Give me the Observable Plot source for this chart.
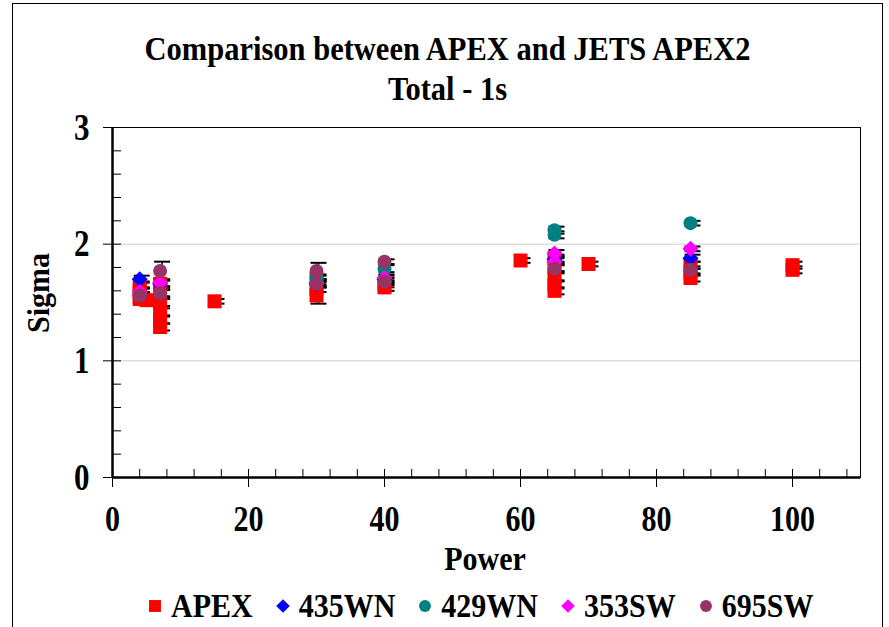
<!DOCTYPE html>
<html>
<head>
<meta charset="utf-8">
<script src="https://cdn.jsdelivr.net/npm/d3@7"></script>
<script src="https://cdn.jsdelivr.net/npm/@observablehq/plot@0.6"></script>
<style>
  body { margin: 0; background: #fff; }
  #chart { position: relative; width: 889px; height: 627px; overflow: hidden;
           font-family: "Liberation Serif", "Times New Roman", serif; font-weight: bold; color: #000; }
  #outline { position: absolute; left: 12px; top: 3px; width: 871px; height: 660px; border: 1px solid #000; box-sizing: border-box; }
  .title { position: absolute; left: 0; width: 895px; text-align: center; font-size: 30.5px; line-height: 1; transform: scaleY(1.12); }
  #plot { position: absolute; left: 0; top: 0; }
  .axis-label { position: absolute; font-size: 30px; line-height: 0.9; }
  #legend { position: absolute; left: 147px; top: 591px; display: flex; align-items: center; font-size: 30px; line-height: 1; }
  #legend .item { display: flex; align-items: center; margin-right: 22px; }
  #legend span { display: inline-block; transform: scaleY(1.12); }
  #legend svg { margin-right: 8px; }
</style>
</head>
<body>
<div id="chart">
  <div id="outline"></div>
  <div id="plot"></div>
  <div class="title" style="top:34px">Comparison between APEX and JETS APEX2</div>
  <div class="title" style="top:74px">Total - 1s</div>
  <div class="axis-label" style="left:485px; top:545px; transform: translateX(-50%) scaleY(1.1)">Power</div>
  <div class="axis-label" style="left:38px; top:293px; transform: translate(-50%,-50%) rotate(-90deg) scaleY(1.05)">Sigma</div>
  <div id="legend"></div>
</div>
<script>
// Series: Power (x) and Sigma (y), with symmetric error bar half-widths
const apexPower  = [4, 4, 4, 4, 5, 7, 7, 7, 7, 7, 7, 15, 30, 30, 30, 40, 40, 60, 65, 65, 65, 65, 65, 70, 85, 85, 85, 100, 100];
const apexSigma  = [1.65, 1.60, 1.55, 1.53, 1.52, 1.66, 1.58, 1.50, 1.42, 1.35, 1.29, 1.51, 1.70, 1.62, 1.56, 1.66, 1.63, 1.86, 1.88, 1.80, 1.72, 1.65, 1.60, 1.83, 1.82, 1.76, 1.71, 1.82, 1.78];
const apexErr    = [0.03, 0.03, 0.03, 0.03, 0.02, 0.03, 0.03, 0.03, 0.03, 0.03, 0.03, 0.02, 0.03, 0.03, 0.07, 0.03, 0.03, 0.02, 0.03, 0.03, 0.03, 0.03, 0.03, 0.02, 0.03, 0.03, 0.03, 0.03, 0.03];

const wn435Power = [4, 7, 30, 40, 65, 85];
const wn435Sigma = [1.70, 1.66, 1.66, 1.70, 1.87, 1.88];
const wn435Err   = [0.03, 0.03, 0.03, 0.03, 0.03, 0.03];

const wn429Power = [4, 7, 30, 40, 65, 65, 85];
const wn429Sigma = [1.56, 1.58, 1.71, 1.79, 2.12, 2.08, 2.18];
const wn429Err   = [0.03, 0.03, 0.03, 0.03, 0.03, 0.03, 0.02];

const sw353Power = [4, 7, 30, 40, 65, 65, 85];
const sw353Sigma = [1.59, 1.67, 1.67, 1.71, 1.92, 1.85, 1.96];
const sw353Err   = [0.03, 0.03, 0.03, 0.03, 0.03, 0.03, 0.02];

const sw695Power = [4, 7, 7, 30, 30, 40, 40, 65, 85];
const sw695Sigma = [1.56, 1.77, 1.58, 1.77, 1.66, 1.85, 1.68, 1.79, 1.78];
const sw695Err   = [0.03, 0.08, 0.03, 0.07, 0.03, 0.02, 0.03, 0.03, 0.03];

const seriesNames = ["APEX", "435WN", "429WN", "353SW", "695SW"];
const seriesColors = ["#ff0000", "#0000ff", "#008080", "#ff00ff", "#993366"];
const seriesSymbols = ["square", "diamond2", "circle", "diamond2", "circle"];
const seriesRadius = [7.9, 7.2, 7, 7.2, 7];

const xMajorTicks = [0, 20, 40, 60, 80, 100];
const xMinorTicks = d3.range(0, 110, 4);
const yMajorTicks = [0, 1, 2, 3];
const yMinorTicks = d3.range(0, 3.01, 0.2).map(v => +v.toFixed(1));
const gridValues = [1, 2];

const rows = (power, sigma, err, name) => power.map((p, i) => ({power: p, sigma: sigma[i], err: err[i], series: name}));
const series = [
  rows(apexPower, apexSigma, apexErr, "APEX"),
  rows(wn435Power, wn435Sigma, wn435Err, "435WN"),
  rows(wn429Power, wn429Sigma, wn429Err, "429WN"),
  rows(sw353Power, sw353Sigma, sw353Err, "353SW"),
  rows(sw695Power, sw695Sigma, sw695Err, "695SW")
];
const all = series.flat();

// horizontal stroke used as an error-bar cap
const capSymbol = {
  draw(context, size) {
    const w = Math.sqrt(size / Math.PI);
    context.moveTo(-w, 0);
    context.lineTo(w, 0);
  }
};

const errorMarks = [
  Plot.ruleX(all, {x: "power", y1: d => d.sigma - d.err, y2: d => d.sigma + d.err, dx: 2, stroke: "#000", strokeWidth: 1.5}),
  Plot.dot(all, {x: "power", y: d => d.sigma + d.err, symbol: capSymbol, r: 8, dx: 2, stroke: "#000", strokeWidth: 2, fill: "none"}),
  Plot.dot(all, {x: "power", y: d => d.sigma - d.err, symbol: capSymbol, r: 8, dx: 2, stroke: "#000", strokeWidth: 2, fill: "none"})
];

const pointMarks = series.map((data, i) =>
  Plot.dot(data, {x: "power", y: "sigma", symbol: seriesSymbols[i], r: seriesRadius[i], fill: seriesColors[i], stroke: "none"})
);

const plot = Plot.plot({
  width: 889,
  height: 627,
  marginLeft: 112,
  marginRight: 29,
  marginTop: 127,
  marginBottom: 150,
  style: {background: "transparent", fontFamily: "Liberation Serif, Times New Roman, serif", fontWeight: "bold", color: "#000", overflow: "visible"},
  x: {domain: [0, 110]},
  y: {domain: [0, 3]},
  marks: [
    Plot.gridY(gridValues, {stroke: "#cfcfcf", strokeOpacity: 1, strokeWidth: 1}),
    Plot.frame({stroke: "#000", strokeWidth: 1}),
    Plot.axisX(xMajorTicks, {tickSize: 10, tickPadding: 20, fontSize: 30, label: null, strokeWidth: 1, tickFormat: d => String(d)}),
    Plot.axisX(xMinorTicks, {tickSize: 8, dy: -8, text: null, label: null, strokeWidth: 1}),
    Plot.axisY(yMajorTicks, {tickSize: 9, tickPadding: 14, fontSize: 31, label: null, strokeWidth: 1, tickFormat: d => String(d)}),
    Plot.axisY(yMinorTicks, {tickSize: 9, dx: 9, text: null, label: null, strokeWidth: 1}),
    Plot.ruleX([0], {strokeWidth: 2.5}),
    Plot.ruleY([0], {strokeWidth: 2.5}),
    ...errorMarks,
    ...pointMarks
  ]
});
document.getElementById("plot").appendChild(plot);

// taller, narrower tick numerals: stretch each label about its own centre
function stretchText(text, s) {
  const b = text.getBBox();
  const cy = b.y + b.height / 2;
  const t = text.getAttribute("transform") || "";
  text.setAttribute("transform", `${t} translate(0,${cy}) scale(1,${s}) translate(0,${-cy})`);
}
plot.querySelectorAll('g[aria-label="x-axis tick label"] text, g[aria-label="y-axis tick label"] text')
  .forEach(t => stretchText(t, 1.22));

// legend row beneath the plot
const legend = d3.select("#legend");
seriesNames.forEach((name, i) => {
  const item = legend.append("div").attr("class", "item");
  const svg = item.append("svg").attr("width", 16).attr("height", 16);
  const sym = {square: d3.symbolSquare, diamond2: d3.symbolDiamond2, circle: d3.symbolCircle}[seriesSymbols[i]];
  const r = seriesRadius[i] * 0.85;
  svg.append("path")
    .attr("transform", "translate(8,8)")
    .attr("d", d3.symbol(sym, Math.PI * r * r)())
    .attr("fill", seriesColors[i]);
  item.append("span").text(name);
});
</script>
</body>
</html>
